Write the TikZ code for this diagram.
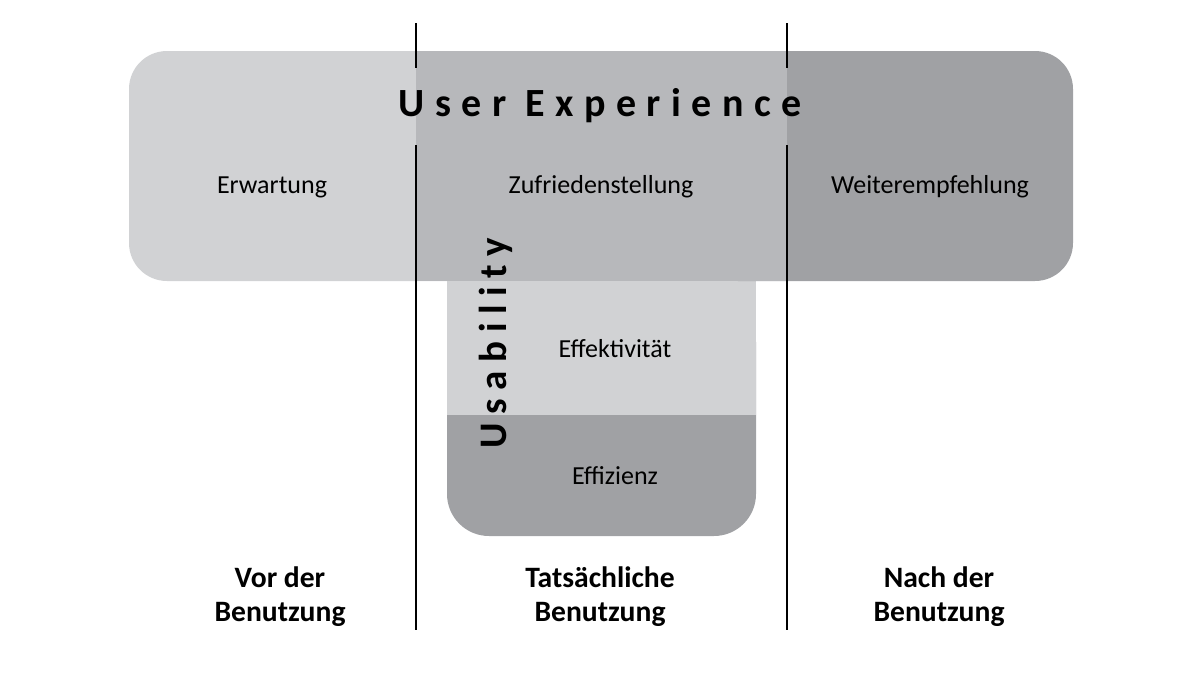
\documentclass[tikz,border=0pt]{standalone}
\usepackage{fontspec}
\setmainfont{Carlito}

\definecolor{uxlight}{RGB}{209,210,212}
\definecolor{uxmid}{RGB}{183,184,187}
\definecolor{uxdark}{RGB}{160,161,164}

\begin{document}
\begin{tikzpicture}[
    x=0.5pt, y=-0.5pt,
    aspect/.style = {inner sep=0pt, anchor=base, font=\fontsize{13}{15}\selectfont},
    headline/.style = {inner sep=0pt, anchor=base, font=\fontsize{20}{23}\selectfont\bfseries\addfontfeatures{LetterSpace=26}},
    sideline/.style = {headline, rotate=90, font=\fontsize{19.5}{23}\selectfont\bfseries\addfontfeatures{LetterSpace=22}},
    phase/.style = {inner sep=0pt, anchor=base, align=center, font=\fontsize{14.8}{17}\selectfont\bfseries},
    separator/.style = {line width=1.35pt}
    ]
    \useasboundingbox (0,0) rectangle (1200,675);

    % usability block
    \fill[uxdark, rounded corners=21pt] (447,300) rectangle (756,536);
    \fill[uxlight] (447,281) rectangle (756,415);

    % user experience block
    \fill[uxlight, rounded corners=19pt] (129,51) rectangle (600,281);
    \fill[uxdark, rounded corners=19pt] (700,51) rectangle (1073,281);
    \fill[uxmid] (416,51) rectangle (787,281);

    % phase separators
    \coordinate (lefttop) at (416,23);
    \coordinate (leftgap) at (416,68);
    \coordinate (leftmid) at (416,145);
    \coordinate (leftend) at (416,630);
    \coordinate (righttop) at (787,23);
    \coordinate (rightgap) at (787,68);
    \coordinate (rightmid) at (787,145);
    \coordinate (rightend) at (787,630);
    \draw[separator] (lefttop) -- (leftgap);
    \draw[separator] (leftmid) -- (leftend);
    \draw[separator] (righttop) -- (rightgap);
    \draw[separator] (rightmid) -- (rightend);

    \node[headline] (ux) at (600,116) {User Experience};
    \node[sideline] (usability) at (506,343) {Usability};

    \node[aspect] (erwartung) at (272,193) {Erwartung};
    \node[aspect] (zufriedenheit) at (601,193) {Zufriedenstellung};
    \node[aspect] (empfehlung) at (930,193) {Weiterempfehlung};
    \node[aspect] (effektivitaet) at (615,357) {Effektivität};
    \node[aspect] (effizienz) at (615,484) {Effizienz};

    % last line sits on the base anchor
    \node[phase] (vorher) at (280,621) {Vor der\\Benutzung};
    \node[phase] (waehrend) at (600,621) {Tatsächliche\\Benutzung};
    \node[phase] (nachher) at (939,621) {Nach der\\Benutzung};
\end{tikzpicture}
\end{document}
